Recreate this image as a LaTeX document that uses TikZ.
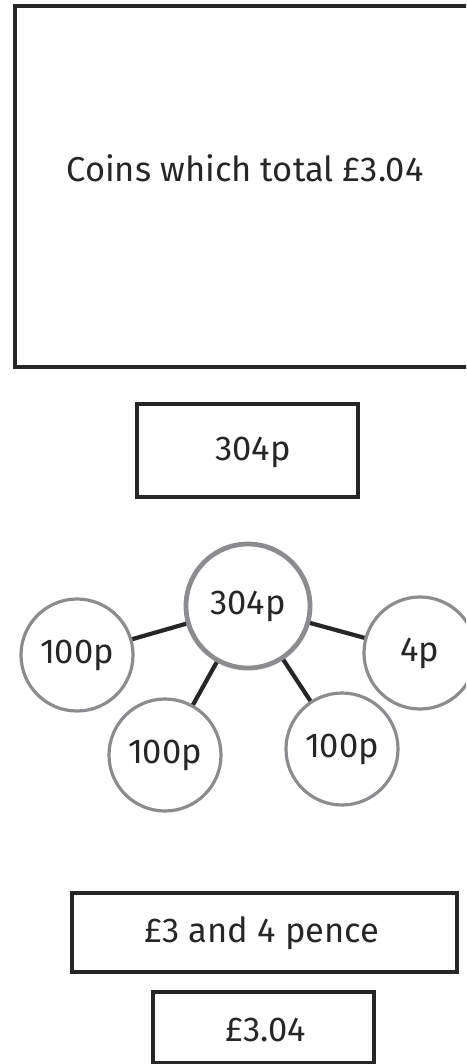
\documentclass[tikz,border=0pt]{standalone}
\usepackage{fontspec}
\setmainfont{Fira Sans}
\definecolor{ink}{HTML}{262626}
\definecolor{ring}{HTML}{8C8C90}
\begin{document}
\begin{tikzpicture}[x=1pt,y=-1pt,
  lbl/.style={font=\fontsize{34.5}{38}\selectfont, text=ink},
  boxed/.style={draw=ink, line width=3.4pt},
  coin/.style={circle, draw=ring, line width=3.2pt, minimum size=112pt, inner sep=0pt, lbl},
  bigcoin/.style={coin, line width=4.8pt, minimum size=124pt},
  link/.style={draw=ink, line width=4.2pt}]
\useasboundingbox (0,0) rectangle (466,1064);
\clip (0,0) rectangle (466,1064);
% top box
\draw[boxed] (15,6) rectangle (480,367);
\node[lbl] (title) at (245,168) {Coins which total £3.04};
% 304p box
\draw[boxed] (137,404) rectangle (358,497);
\node[lbl] (pence) at (253,452) {304p};
% part-whole
\node[bigcoin] (c) at (248,606) {304p};
\node[coin] (l) at (77,655) {100p};
\node[coin] (r) at (420,653) {4p};
\node[coin] (bl) at (165,755) {100p};
\node[coin] (br) at (342,749) {100p};
\draw[link] (c) -- (l);
\draw[link] (c) -- (r);
\draw[link] (c) -- (bl);
\draw[link] (c) -- (br);
% bottom boxes
\draw[boxed] (72,893) rectangle (457,972);
\node[lbl] (words) at (262,933) {£3 and 4 pence};
\draw[boxed] (153,992) rectangle (374,1063);
\node[lbl] (money) at (266,1030) {£3.04};
\end{tikzpicture}
\end{document}
